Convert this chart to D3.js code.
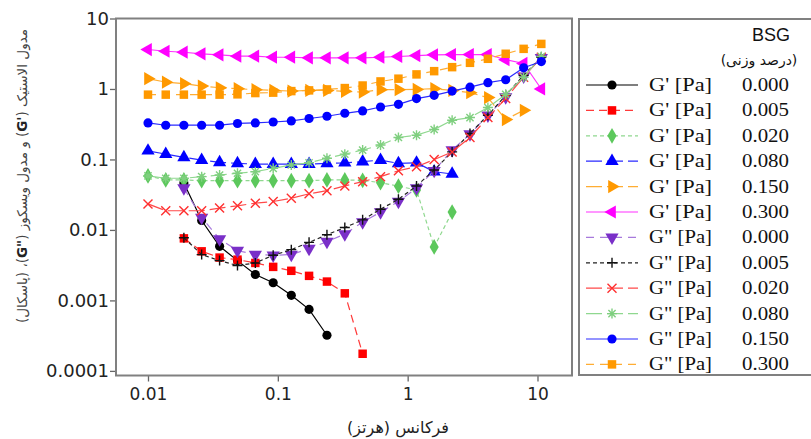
<!DOCTYPE html>
<html>
<head>
<meta charset="utf-8">
<script src="https://cdn.jsdelivr.net/npm/d3@7"></script>
<style>
  body { margin: 0; background: #fff; }
  svg { display: block; }
</style>
</head>
<body>
<div id="chart"></div>
<script>
// frequency (Hz) of each measured point
var freq = [0.01, 0.0137, 0.0189, 0.0259, 0.0356, 0.0489, 0.0671, 0.0921, 0.127, 0.174, 0.239, 0.328,
            0.450, 0.618, 0.849, 1.17, 1.60, 2.20, 3.02, 4.15, 5.69, 7.82, 10.7];

// G' series (Pa), one per BSG level
var gp000 = [null, null, 0.0464, 0.0136, 0.00585, 0.00367, 0.00233, 0.00178, 0.00118, 0.000746, 0.00032,
             null, null, null, null, null, null, null, null, null, null, null, null];
var gp005 = [null, null, 0.00759, 0.00497, 0.00405, 0.00379, 0.0034, 0.00299, 0.00263, 0.00223, 0.00185, 0.00126,
             0.000175, null, null, null, null, null, null, null, null, null, null];
var gp020 = [0.0583, 0.0512, 0.0512, 0.0500, 0.0500, 0.0500, 0.0500, 0.0500, 0.0500, 0.0500, 0.0512, 0.0512,
             0.0505, 0.0469, 0.0417, 0.0370, 0.00573, 0.0179, null, null, null, null, null];
var gp080 = [0.1327, 0.119, 0.107, 0.098, 0.091, 0.088, 0.086, 0.086, 0.086, 0.086, 0.088, 0.0897,
             0.093, 0.098, 0.088, 0.0897, 0.067, 0.0622, null, null, null, null, null];
var gp150 = [1.40, 1.25, 1.19, 1.10, 1.04, 1.01, 0.977, 0.955, 0.933, 0.955, 0.955, 0.925,
             0.904, 0.977, 0.977, 0.986, 1.01, 0.955, 0.887, 0.754, 0.368, 0.499, null];
var gp300 = [3.63, 3.43, 3.32, 3.15, 3.05, 2.92, 2.92, 2.82, 2.82, 2.77, 2.77, 2.77,
             2.77, 2.82, 2.89, 2.98, 3.05, 3.08, 3.08, 3.08, 2.6, 2.3, 1.0];

// G'' series (Pa)
var gpp000 = [null, null, 0.0391, 0.0150, 0.00744, 0.00508, 0.00447, 0.00437, 0.00447, 0.00542, 0.00681, 0.00875,
              0.0129, 0.0179, 0.0253, 0.0394, 0.0692, 0.136, 0.229, 0.424, 0.769, 1.51, 2.77];
var gpp005 = [null, null, 0.00776, 0.00447, 0.00367, 0.00312, 0.0034, 0.00437, 0.00525, 0.00666, 0.00855, 0.0108,
              0.0139, 0.0197, 0.0272, 0.0421, 0.0708, 0.128, 0.234, 0.424, 0.812, 1.56, 2.82];
var gpp020 = [0.0234, 0.0187, 0.0187, 0.0187, 0.0204, 0.0220, 0.0240, 0.0253, 0.0282, 0.0325, 0.0361, 0.0421,
              0.0484, 0.0570, 0.0692, 0.0789, 0.0997, 0.128, 0.205, 0.393, 0.730, 1.47, 2.82];
var gpp080 = [0.0583, 0.0541, 0.0541, 0.0570, 0.0602, 0.0637, 0.0670, 0.0748, 0.0834, 0.0898, 0.104, 0.119,
              0.136, 0.160, 0.205, 0.221, 0.266, 0.360, 0.393, 0.545, 0.839, 1.47, 2.89];
var gpp150 = [0.330, 0.306, 0.306, 0.306, 0.306, 0.324, 0.330, 0.340, 0.352, 0.381, 0.410, 0.452,
              0.488, 0.555, 0.605, 0.730, 0.812, 0.933, 1.06, 1.23, 1.35, 2.00, 2.45];
var gpp300 = [0.831, 0.831, 0.831, 0.831, 0.831, 0.839, 0.875, 0.887, 0.933, 0.955, 0.986, 1.03,
              1.12, 1.28, 1.40, 1.61, 1.79, 2.04, 2.35, 2.68, 3.16, 3.71, 4.36];

// legend text
var moduli = ["G' [Pa]", "G' [Pa]", "G' [Pa]", "G' [Pa]", "G' [Pa]", "G' [Pa]",
              'G" [Pa]', 'G" [Pa]', 'G" [Pa]', 'G" [Pa]', 'G" [Pa]', 'G" [Pa]'];
var bsgLevels = ["0.000", "0.005", "0.020", "0.080", "0.150", "0.300",
                 "0.000", "0.005", "0.020", "0.080", "0.150", "0.300"];

// ticks
var xTicks = [0.01, 0.1, 1, 10];
var xTickLabels = ["0.01", "0.1", "1", "10"];
var yTicks = [0.0001, 0.001, 0.01, 0.1, 1, 10];
var yTickLabels = ["0.0001", "0.001", "0.01", "0.1", "1", "10"];

// look of every series, in legend order
var styles = [
  {data: gp000,  marker: "circle",  fill: "#000000", line: "#000000", dash: null},
  {data: gp005,  marker: "square",  fill: "#ff0000", line: "#ff3a3a", dash: "8,5"},
  {data: gp020,  marker: "diamond", fill: "#5cc85c", line: "#8fd88f", dash: "4,3"},
  {data: gp080,  marker: "triUp",   fill: "#0000ff", line: "#2a2aff", dash: "16,5"},
  {data: gp150,  marker: "triRight",fill: "#ff9900", line: "#ffad33", dash: "16,5"},
  {data: gp300,  marker: "triLeft", fill: "#ff00ff", line: "#ff30ff", dash: null},
  {data: gpp000, marker: "triDown", fill: "#7a2fc8", line: "#a779dc", dash: "8,6"},
  {data: gpp005, marker: "plus",    fill: "#111111", line: "#222222", dash: "4,3"},
  {data: gpp020, marker: "cross",   fill: "#ff3030", line: "#ff4a4a", dash: "16,5"},
  {data: gpp080, marker: "star",    fill: "#7fcf7f", line: "#8fd88f", dash: "16,5"},
  {data: gpp150, marker: "circle",  fill: "#0000ff", line: "#2a2aff", dash: null},
  {data: gpp300, marker: "square",  fill: "#ff9900", line: "#ffad33", dash: "8,6"}
];

var W = 811, H = 439;
var plot = {left: 116, right: 572, top: 18.5, bottom: 375.5};

var svg = d3.select("#chart")
  .append("svg")
    .attr("width", W)
    .attr("height", H);

svg.append("rect").attr("width", W).attr("height", H).attr("fill", "#fff");

// scales
var x = d3.scaleLog()
  .domain([0.00567, 18.44])
  .range([plot.left, plot.right]);
var y = d3.scaleLog()
  .domain([0.000086, 10])
  .range([plot.bottom, plot.top]);

// Add X axis
var xAxis = svg.append("g")
  .attr("transform", "translate(0," + plot.bottom + ")")
  .call(d3.axisBottom(x).tickValues(xTicks).tickSize(6).tickPadding(6)
    .tickFormat(function(d, i) { return xTickLabels[i]; }));
xAxis.select(".domain").remove();
xAxis.selectAll("line").attr("stroke", "#666").attr("stroke-width", 1.3);
xAxis.selectAll("text")
  .attr("font-family", "DejaVu Sans")
  .attr("font-size", 17)
  .attr("fill", "#222");

// Add Y axis
var yAxis = svg.append("g")
  .attr("transform", "translate(" + plot.left + ",0)")
  .call(d3.axisLeft(y).tickValues(yTicks).tickSize(6).tickPadding(1)
    .tickFormat(function(d, i) { return yTickLabels[i]; }));
yAxis.select(".domain").remove();
yAxis.selectAll("line").attr("stroke", "#666").attr("stroke-width", 1.3);
yAxis.selectAll("text")
  .attr("font-family", "DejaVu Sans")
  .attr("font-size", 18)
  .attr("fill", "#222");

// plot frame
svg.append("rect")
  .attr("x", plot.left).attr("y", plot.top)
  .attr("width", plot.right - plot.left).attr("height", plot.bottom - plot.top)
  .attr("fill", "none").attr("stroke", "#808080").attr("stroke-width", 2);

// marker paths
function markerPath(type) {
  if (type == "circle") return d3.symbol(d3.symbolCircle, 66)();
  if (type == "square") return d3.symbol(d3.symbolSquare, 72)();
  if (type == "diamond") return d3.symbol(d3.symbolDiamond, 72)();
  if (type.indexOf("tri") == 0) return d3.symbol(d3.symbolTriangle, 76)();
  if (type == "plus") return "M-5,0H5M0,-5V5";
  if (type == "cross") return "M-4.5,-4.5L4.5,4.5M-4.5,4.5L4.5,-4.5";
  return "M-5,0H5M0,-5V5M-3.6,-3.6L3.6,3.6M-3.6,3.6L3.6,-3.6";
}
var rotation = {triUp: 0, triRight: 90, triDown: 180, triLeft: 270};

function drawMarker(g, type, color, cx, cy) {
  var p = g.append("path")
    .attr("d", markerPath(type))
    .attr("transform", "translate(" + cx + "," + cy + ") rotate(" + (rotation[type] || 0) + ")");
  if (type == "plus" || type == "cross" || type == "star") {
    p.attr("fill", "none").attr("stroke", color).attr("stroke-width", 1.4);
  } else {
    p.attr("fill", color);
  }
}

var line = d3.line()
  .defined(function(d) { return d.v != null; })
  .x(function(d) { return x(d.f); })
  .y(function(d) { return y(d.v); });

// series
var plotG = svg.append("g");
styles.forEach(function(s) {
  var pts = s.data.map(function(v, i) { return {f: freq[i], v: v}; });
  var present = pts.filter(function(d) { return d.v != null; });
  plotG.append("path")
    .datum(present)
    .attr("d", line)
    .attr("fill", "none")
    .attr("stroke", s.line)
    .attr("stroke-width", 1.2)
    .attr("stroke-dasharray", s.dash);
  present.forEach(function(d) {
    drawMarker(plotG, s.marker, s.fill, x(d.f), y(d.v));
  });
});

// legend box
var leg = svg.append("g");
leg.append("rect")
  .attr("x", 579).attr("y", 19).attr("width", 260).attr("height", 356)
  .attr("fill", "#fff").attr("stroke", "#808080").attr("stroke-width", 2);
leg.append("text")
  .attr("x", 771).attr("y", 41)
  .attr("text-anchor", "middle")
  .attr("font-family", "Liberation Sans")
  .attr("font-size", 18)
  .attr("fill", "#111")
  .text("BSG");
leg.append("text")
  .attr("x", 759).attr("y", 65)
  .attr("text-anchor", "middle")
  .attr("direction", "rtl")
  .attr("font-family", "DejaVu Sans")
  .attr("font-size", 14)
  .attr("fill", "#111")
  .text("(درصد وزنی)");

styles.forEach(function(s, i) {
  var ly = 85 + i * 25.4;
  leg.append("line")
    .attr("x1", 586).attr("x2", 638).attr("y1", ly).attr("y2", ly)
    .attr("stroke", s.line).attr("stroke-width", 1.2)
    .attr("stroke-dasharray", s.dash);
  drawMarker(leg, s.marker, s.fill, 612, ly);
  leg.append("text")
    .attr("x", 649).attr("y", ly + 6)
    .attr("font-family", "Liberation Serif")
    .attr("font-size", 18)
    .attr("textLength", 63).attr("lengthAdjust", "spacingAndGlyphs")
    .attr("fill", "#111")
    .text(moduli[i]);
  leg.append("text")
    .attr("x", 742).attr("y", ly + 6)
    .attr("font-family", "Liberation Serif")
    .attr("font-size", 18)
    .attr("textLength", 47).attr("lengthAdjust", "spacingAndGlyphs")
    .attr("fill", "#111")
    .text(bsgLevels[i]);
});

// X axis title
svg.append("text")
  .attr("x", 398).attr("y", 433)
  .attr("text-anchor", "middle")
  .attr("direction", "rtl")
  .attr("font-family", "DejaVu Sans")
  .attr("font-size", 16)
  .attr("fill", "#222")
  .text("فرکانس (هرتز)");

// Y axis title
var yt = svg.append("text")
  .attr("transform", "translate(27,176) rotate(-90)")
  .attr("text-anchor", "middle")
  .attr("direction", "rtl")
  .attr("font-family", "DejaVu Sans")
  .attr("font-size", 13.5)
  .attr("fill", "#444");
yt.append("tspan").text("مدول الاستیک (");
yt.append("tspan").attr("font-weight", "bold").attr("fill", "#222").text("G'\u200E");
yt.append("tspan").text(") و مدول ویسکوز (");
yt.append("tspan").attr("font-weight", "bold").attr("fill", "#222").text("G\"\u200E");
yt.append("tspan").text(")، (پاسکال)");
</script>
</body>
</html>
